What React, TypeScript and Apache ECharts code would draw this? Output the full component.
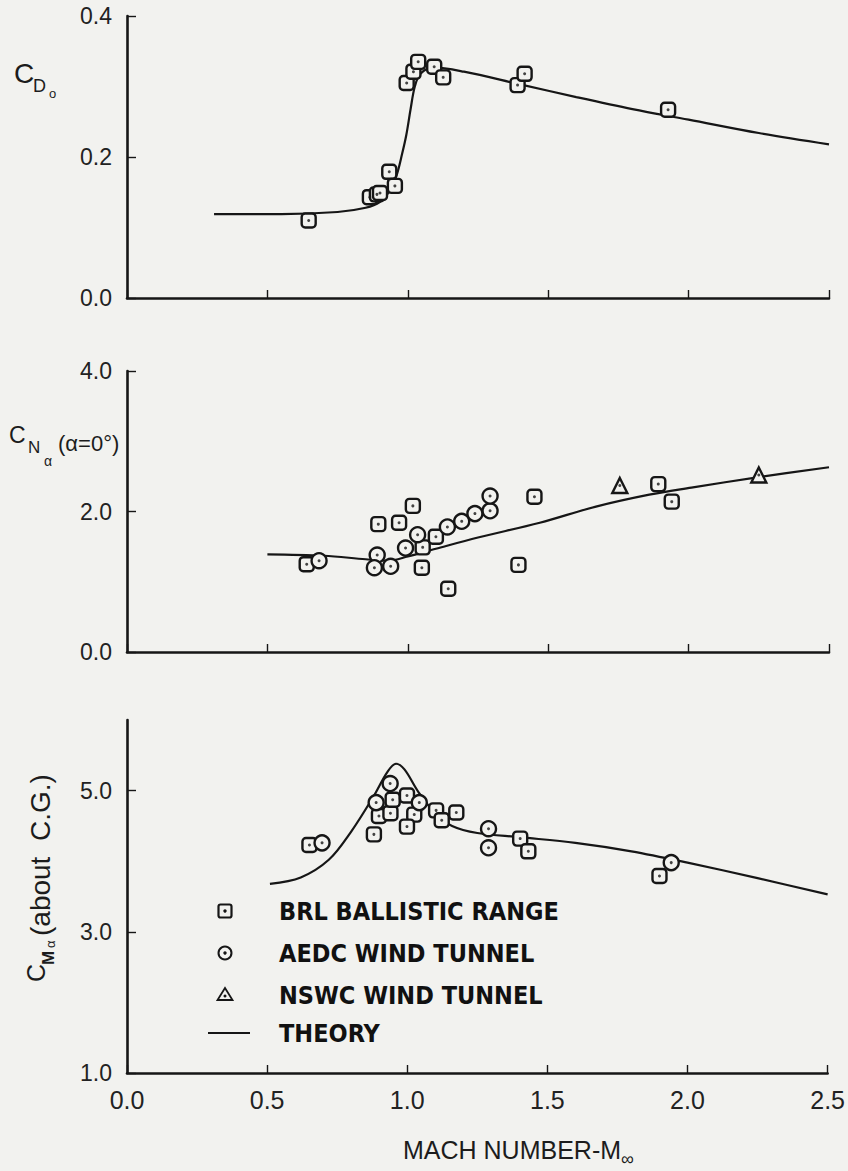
import React, { useEffect, useRef } from "react";
import * as echarts from "echarts";

// ---------- DATA ----------
// Panel 1: C_D0
const cdTheoryMach = [0.31, 0.55, 0.75, 0.85, 0.9, 0.935, 0.96, 0.98, 0.995, 1.01, 1.025, 1.045, 1.09, 1.2, 1.4, 1.6, 1.8, 2.0, 2.25, 2.5];
const cdTheoryVal = [0.119, 0.119, 0.122, 0.128, 0.136, 0.152, 0.174, 0.205, 0.232, 0.268, 0.3, 0.318, 0.327, 0.321, 0.303, 0.285, 0.268, 0.253, 0.234, 0.218];
const cdBrlMach = [0.647, 0.865, 0.89, 0.901, 0.934, 0.954, 0.996, 1.02, 1.037, 1.094, 1.126, 1.391, 1.416, 1.927];
const cdBrlVal = [0.11, 0.143, 0.147, 0.149, 0.179, 0.159, 0.305, 0.321, 0.335, 0.328, 0.313, 0.302, 0.318, 0.267];

// Panel 2: C_N alpha
const cnTheoryMach = [0.5, 0.7, 0.85, 0.93, 1.0, 1.1, 1.25, 1.47, 1.67, 1.86, 2.01, 2.25, 2.5];
const cnTheoryVal = [1.39, 1.37, 1.32, 1.3, 1.36, 1.47, 1.63, 1.84, 2.07, 2.24, 2.34, 2.49, 2.63];
const cnBrlMach = [0.64, 0.895, 0.969, 1.018, 1.053, 1.05, 1.1, 1.144, 1.394, 1.451, 1.892, 1.94];
const cnBrlVal = [1.25, 1.82, 1.84, 2.08, 1.49, 1.2, 1.64, 0.9, 1.24, 2.21, 2.39, 2.14];
const cnAedcMach = [0.684, 0.891, 0.881, 0.939, 0.992, 1.035, 1.141, 1.192, 1.239, 1.293, 1.293];
const cnAedcVal = [1.3, 1.38, 1.2, 1.22, 1.48, 1.67, 1.78, 1.86, 1.97, 2.01, 2.22];
const cnNswcMach = [1.755, 2.25];
const cnNswcVal = [2.37, 2.52];

// Panel 3: C_M alpha
const cmTheoryMach = [0.51, 0.62, 0.72, 0.8, 0.88, 0.93, 0.96, 0.99, 1.04, 1.1, 1.16, 1.25, 1.4, 1.6, 1.8, 2.0, 2.25, 2.5];
const cmTheoryVal = [3.68, 3.77, 4.02, 4.42, 4.92, 5.27, 5.38, 5.3, 4.98, 4.68, 4.5, 4.4, 4.34, 4.26, 4.14, 3.98, 3.76, 3.53];
const cmBrlMach = [0.651, 0.881, 0.899, 0.94, 0.948, 0.999, 1.025, 0.999, 1.103, 1.123, 1.175, 1.403, 1.432, 1.9];
const cmBrlVal = [4.23, 4.38, 4.64, 4.68, 4.87, 4.93, 4.66, 4.49, 4.72, 4.58, 4.69, 4.32, 4.14, 3.79];
const cmAedcMach = [0.696, 0.889, 0.939, 1.043, 1.29, 1.29, 1.942];
const cmAedcVal = [4.26, 4.83, 5.1, 4.83, 4.46, 4.19, 3.98];

const cdTicks = [0, 0.2, 0.4];
const cnTicks = [0, 2, 4];
const cmTicks = [1, 3, 5];

const legendLabels = ["BRL BALLISTIC RANGE", "AEDC WIND TUNNEL", "NSWC WIND TUNNEL", "THEORY"];
const xTitle = "MACH NUMBER-M";

// ---------- STYLE ----------
const BG = "#f2f2ef";
const INK = "#161616";
const NUM_FONT = "'Liberation Sans', 'DejaVu Sans', sans-serif";
const LEG_FONT = "'DejaVu Sans Condensed', 'DejaVu Sans', sans-serif";

const zip = (a: number[], b: number[]) => a.map((v, i) => [v, b[i]]);

export default function App() {
  const ref = useRef<HTMLDivElement>(null);
  useEffect(() => {
    if (!ref.current) return;
    const chart = echarts.init(ref.current, undefined, { renderer: "svg" });

    const grids = [
      { left: 127, right: 19, top: 16, height: 282 },
      { left: 127, right: 19, top: 371, height: 281 },
      { left: 127, right: 19, top: 720, height: 353 },
    ];

    const xAxes = grids.map((_, i) => ({
      type: "value",
      gridIndex: i,
      min: 0,
      max: 2.5,
      interval: 0.5,
      axisLine: { show: true, lineStyle: { color: INK, width: 2.6 } },
      axisTick: { show: true, inside: true, length: 8, lineStyle: { color: INK, width: 1.4 } },
      splitLine: { show: false },
      axisLabel: {
        show: i === 2,
        margin: 14,
        color: "#222",
        fontFamily: NUM_FONT,
        fontSize: 25,
        formatter: (v: number) => v.toFixed(1),
      },
    }));

    const yCommon = (i: number, min: number, max: number, ticks: number[]) => ({
      type: "value",
      gridIndex: i,
      min,
      max,
      interval: ticks[1] - ticks[0],
      axisLine: { show: true, lineStyle: { color: INK, width: 2.6 } },
      axisTick: { show: true, inside: true, length: 9, customValues: ticks, lineStyle: { color: INK, width: 1.4 } },
      splitLine: { show: false },
      axisLabel: {
        show: true,
        margin: 15,
        color: "#222",
        fontFamily: NUM_FONT,
        fontSize: 23,
        customValues: ticks,
        formatter: (v: number) => v.toFixed(1),
      },
    });

    const yAxes = [
      yCommon(0, 0, 0.4, cdTicks),
      yCommon(1, 0, 4, cnTicks),
      yCommon(2, 1, 6, cmTicks),
    ];

    const theory = (i: number, m: number[], v: number[]) => ({
      type: "line",
      xAxisIndex: i,
      yAxisIndex: i,
      data: zip(m, v),
      symbol: "none",
      smooth: 0.35,
      lineStyle: { color: INK, width: 2.2 },
      z: 2,
    });
    const marker = (i: number, m: number[], v: number[], symbol: string, size: number) => [
      {
        type: "scatter",
        xAxisIndex: i,
        yAxisIndex: i,
        data: zip(m, v),
        symbol,
        symbolSize: size,
        itemStyle: { color: BG, borderColor: INK, borderWidth: 2.4, opacity: 1 },
        z: 3,
      },
      {
        type: "scatter",
        xAxisIndex: i,
        yAxisIndex: i,
        data: zip(m, v),
        symbol: "circle",
        symbolSize: 3,
        itemStyle: { color: INK },
        z: 4,
      },
    ];

    const series: any[] = [
      theory(0, cdTheoryMach, cdTheoryVal),
      ...marker(0, cdBrlMach, cdBrlVal, "roundRect", 14),
      theory(1, cnTheoryMach, cnTheoryVal),
      ...marker(1, cnBrlMach, cnBrlVal, "roundRect", 14),
      ...marker(1, cnAedcMach, cnAedcVal, "circle", 15),
      ...marker(1, cnNswcMach, cnNswcVal, "triangle", 15),
      theory(2, cmTheoryMach, cmTheoryVal),
      ...marker(2, cmBrlMach, cmBrlVal, "roundRect", 14),
      ...marker(2, cmAedcMach, cmAedcVal, "circle", 15),
    ];

    const txt = (text: string, x: number, y: number, size: number, extra: any = {}) => ({
      type: "text",
      x,
      y,
      style: {
        text,
        fill: "#1c1c1c",
        fontFamily: NUM_FONT,
        fontSize: size,
        textAlign: "left",
        textVerticalAlign: "middle",
        align: "left",
        verticalAlign: "middle",
        ...extra,
      },
    });

    const legX = 225;
    const legY = [911, 953, 995, 1033];
    const graphic: any[] = [
      // Y title panel 1
      txt("C", 14, 73, 28),
      txt("D", 33, 86, 18),
      txt("o", 49, 93, 13),
      // Y title panel 2
      txt("C", 9, 435, 23),
      txt("N", 28, 447, 17),
      txt("α", 44, 461, 14),
      txt("(α=0°)", 58, 443, 22),
      // Y title panel 3 (rotated)
      {
        type: "group",
        x: 26,
        y: 982,
        rotation: Math.PI / 2,
        children: [
          txt("C", 0, 10, 25),
          txt("M", 17, 22, 17, { fontWeight: "bold" }),
          txt("α", 34, 24, 13),
          txt("(about  C.G.)", 46, 14, 28),
        ],
      },
      // X title
      txt(xTitle, 403, 1150, 25),
      txt("∞", 621, 1159, 18),
      // Legend
      {
        type: "rect",
        shape: { x: legX - 6.5, y: legY[0] - 6.5, width: 13, height: 13, r: 2 },
        style: { fill: BG, stroke: INK, lineWidth: 2.2 },
      },
      { type: "circle", shape: { cx: legX, cy: legY[0], r: 1.7 }, style: { fill: INK } },
      { type: "circle", shape: { cx: legX, cy: legY[1], r: 6.5 }, style: { fill: BG, stroke: INK, lineWidth: 2 } },
      { type: "circle", shape: { cx: legX, cy: legY[1], r: 1.7 }, style: { fill: INK } },
      {
        type: "polygon",
        shape: { points: [[legX, legY[2] - 7], [legX + 7.5, legY[2] + 5], [legX - 7.5, legY[2] + 5]] },
        style: { fill: BG, stroke: INK, lineWidth: 1.8 },
      },
      { type: "circle", shape: { cx: legX, cy: legY[2] + 1, r: 1.5 }, style: { fill: INK } },
      {
        type: "line",
        shape: { x1: 208, y1: legY[3], x2: 250, y2: legY[3] },
        style: { stroke: INK, lineWidth: 2 },
      },
      ...legendLabels.map((t, i) =>
        txt(t, 279, legY[i], 25, { fontFamily: LEG_FONT, fontWeight: "bold", fill: "#111" })
      ),
    ];

    chart.setOption({
      animation: false,
      backgroundColor: BG,
      grid: grids,
      xAxis: xAxes,
      yAxis: yAxes,
      series,
      graphic,
    });
    return () => chart.dispose();
  }, []);

  return (
    <div
      ref={ref}
      style={{ position: "absolute", left: 0, top: 0, width: 848, height: 1171, background: BG }}
    />
  );
}
